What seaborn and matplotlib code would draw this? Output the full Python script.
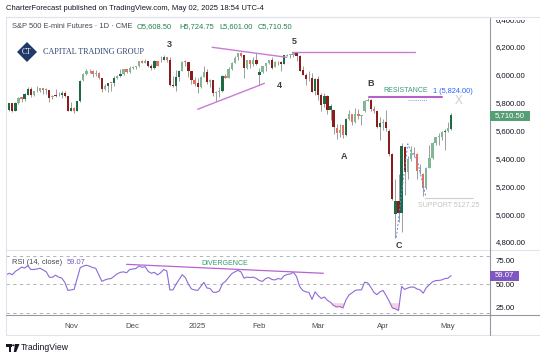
import numpy as np
import pandas as pd
import matplotlib
matplotlib.use("Agg")
import matplotlib.pyplot as plt
import seaborn as sns
from matplotlib.patches import Rectangle, Polygon, Circle
from matplotlib.lines import Line2D

# ---------------- data ----------------
opens = [5752, 5755, 5745, 5797, 5740, 5795, 5838, 5824, 5858, 5900, 5854, 5883, 5882, 5905, 5892, 5890, 5838, 5850, 5852, 5857,
         5868, 5845, 5741, 5760, 5743, 5813, 5960, 6004, 6027, 6025, 6009, 6011, 5975, 5895, 5918, 5943, 5941, 5975, 5993, 6007,
         6040, 6018, 6051, 6058, 6063, 6100, 6088, 6101, 6066, 6048, 6096, 6110, 6107, 6128, 6105, 5928, 5921, 5987, 6031, 6094,
         6091, 6025, 5963, 5938, 5912, 5985, 6018, 5950, 5961, 5868, 5879, 5886, 5993, 5980, 6040, 6088, 6125, 6156, 6140, 6049,
         6104, 6078, 6110, 6000, 6020, 6062, 6087, 6108, 6060, 6090, 6093, 6078, 6139, 6141, 6146, 6161, 6137, 6032, 6000, 5974,
         5975, 5881, 5972, 5857, 5788, 5849, 5746, 5745, 5622, 5581, 5640, 5568, 5685, 5719, 5661, 5721, 5707, 5740, 5812, 5820,
         5756, 5737, 5625, 5656, 5664, 5600, 5430, 5000, 5098, 5010, 5485, 5300, 5396, 5437, 5430, 5307, 5290, 5187, 5331, 5405,
         5512, 5555, 5556, 5590, 5598, 5608.5]
highs = [5765, 5763, 5798, 5800, 5802, 5841, 5841, 5867, 5911, 5910, 5882, 5918, 5906, 5906, 5903, 5893, 5857, 5902, 5878, 5883,
         5886, 5848, 5802, 5771, 5813, 5962, 6013, 6042, 6043, 6035, 6034, 6018, 5977, 5934, 5945, 5945, 5989, 5998, 6039, 6043,
         6041, 6063, 6065, 6065, 6101, 6104, 6111, 6103, 6078, 6104, 6097, 6133, 6140, 6130, 6125, 5990, 6037, 6033, 6096, 6104,
         6093, 6027, 5984, 5977, 5991, 6063, 6043, 5969, 5965, 5886, 5913, 6002, 6006, 6056, 6089, 6139, 6157, 6166, 6142, 6107,
         6110, 6125, 6159, 6048, 6067, 6088, 6109, 6126, 6098, 6101, 6096, 6141, 6152, 6150, 6166, 6163, 6140, 6062, 6011, 6028,
         6011, 5977, 5995, 5873, 5869, 5852, 5791, 5750, 5644, 5650, 5642, 5691, 5749, 5722, 5760, 5756, 5713, 5820, 5832, 5829,
         5778, 5740, 5696, 5682, 5745, 5612, 5442, 5250, 5286, 5510, 5490, 5414, 5492, 5482, 5440, 5361, 5295, 5337, 5497, 5517,
         5557, 5582, 5599, 5609, 5660, 5724.75]
lows = [5728, 5720, 5740, 5730, 5737, 5790, 5808, 5815, 5852, 5844, 5849, 5878, 5880, 5864, 5866, 5802, 5825, 5839, 5847, 5833,
        5840, 5738, 5740, 5726, 5738, 5805, 5955, 5998, 6011, 5985, 5994, 5967, 5878, 5890, 5876, 5885, 5922, 5969, 5982, 6002,
        6011, 6015, 6044, 6045, 6060, 6083, 6085, 6060, 6037, 6045, 6063, 6091, 6104, 6095, 5922, 5915, 5887, 5958, 6030, 6063,
        5988, 5934, 5923, 5871, 5908, 5983, 5932, 5916, 5851, 5815, 5844, 5880, 5975, 5978, 6035, 6085, 6110, 6126, 5975, 6040,
        6050, 6066, 6068, 5930, 6016, 6030, 6076, 6045, 6058, 6068, 6028, 6076, 6132, 6118, 6129, 6102, 6027, 6000, 5927, 5959,
        5876, 5855, 5818, 5740, 5769, 5719, 5675, 5573, 5537, 5554, 5550, 5560, 5674, 5643, 5655, 5682, 5642, 5735, 5809, 5742,
        5727, 5617, 5534, 5606, 5600, 5420, 5100, 4832, 4942, 4870, 5140, 5250, 5380, 5419, 5252, 5287, 5127.25, 5180, 5330, 5399,
        5493, 5496, 5533, 5461, 5590, 5601]
closes = [5754, 5744, 5796, 5741, 5796, 5837, 5825, 5860, 5899, 5855, 5882, 5881, 5904, 5893, 5891, 5837, 5849, 5848, 5858, 5867,
          5848, 5740, 5759, 5742, 5812, 5959, 6003, 6026, 6026, 6009, 6010, 5974, 5896, 5919, 5942, 5942, 5974, 5994, 6006, 6039,
          6017, 6050, 6059, 6062, 6099, 6087, 6102, 6065, 6047, 6097, 6064, 6106, 6129, 6106, 5927, 5922, 5986, 6030, 6095, 6092,
          6026, 5962, 5937, 5911, 5984, 6017, 5951, 5960, 5869, 5878, 5885, 5992, 5979, 6039, 6087, 6124, 6157, 6139, 6050, 6105,
          6077, 6109, 6079, 6019, 6063, 6086, 6109, 6051, 6091, 6094, 6077, 6140, 6140, 6147, 6162, 6136, 6031, 6001, 5973, 5974,
          5880, 5973, 5858, 5787, 5850, 5747, 5778, 5623, 5580, 5607, 5567, 5684, 5720, 5660, 5720, 5708, 5713, 5813, 5821, 5757,
          5738, 5626, 5657, 5665, 5615, 5429, 5106, 5097, 5010, 5487, 5300, 5395, 5438, 5429, 5308, 5315, 5186, 5330, 5404, 5513,
          5553, 5557, 5589, 5597, 5615, 5710.5]
rsi = [60.5, 59.8, 61.5, 60, 63.5, 65.5, 68, 67, 69.5, 65.5, 65.5, 66, 66.8, 65, 63, 57.3, 57.3, 59.5, 57.5, 56.5,
       52, 43.5, 44, 44.5, 56, 67.5, 69, 70, 69, 67.5, 66.8, 60, 53, 54.5, 55.5, 56, 58.5, 61, 62.5, 63,
       62, 65.5, 66, 66.5, 69.2, 67.8, 68.5, 63.5, 61.5, 62.5, 59.8, 62, 65.5, 64, 44, 44, 50, 55, 60, 57,
       50, 45, 44, 43.4, 47.6, 52, 46, 45.5, 41.5, 41.5, 43, 50.5, 53, 57, 61, 63, 64.5, 63, 56.3, 57.5,
       57, 57.5, 56, 53.8, 53, 56, 57, 55, 54.5, 56, 55.2, 59, 60.3, 60.8, 62.6, 58, 47.6, 43.5, 42, 41.3,
       34, 42, 38, 35, 36.5, 33, 31, 27.5, 26, 26.5, 25, 33.6, 38.8, 41, 43.5, 44, 44, 52, 51.5, 47,
       41.5, 39, 42, 43.4, 38, 32, 25, 24, 22.4, 47.6, 44.5, 46, 47, 46.9, 45, 44, 40.6, 46.5, 49.5, 52.5,
       53.8, 54, 54.5, 56, 56.3, 59.07]

month_ticks = [22, 42, 63, 83, 102, 123, 144]
month_labels = ["Nov", "Dec", "2025", "Feb", "Mar", "Apr", "May"]
price_ticks = [6400, 6200, 6000, 5800, 5600, 5400, 5200, 5000, 4800]
rsi_ticks = [75, 50, 25]
rsi_bands = [80, 50, 20]
last_close = 5710.50
last_rsi = 59.07

# drawings (bar index, price)
tri_low_x, tri_low_y = [63.0, 84.6], [5753, 5939]
tri_up_x, tri_up_y = [67.7, 91.8], [6198, 6126]
top5_x, top5_y = [93.6, 133.3], [6162, 6162]
res_x, res_y = [118.4, 142.0], [5843, 5843]
res_dot_x, res_dot_y = [131.1, 137.1], [5817, 5817]
sup_x, sup_y = [136.6, 152.0], [5118, 5118]
wave_x = [127.3, 129.2, 131.0, 132.2, 134.0, 136.0, 136.8]
wave_y = [4832, 5190, 5505, 5440, 5390, 5210, 5127]
div_x, div_y = [40.0, 103.7], [70.9, 61.5]
wave_labels = [("3", 53.7, 6221), ("5", 94.3, 6243), ("4", 89.3, 5927),
               ("A", 110.4, 5417), ("B", 118.9, 5938), ("C", 128.0, 4775)]

# ---------------- style ----------------
sns.set_theme(style="white")
plt.rcParams['font.family'] = ['Liberation Sans', 'DejaVu Sans']

W, H = 540, 357
fig = plt.figure(figsize=(W / 100, H / 100), dpi=100)
fig.patch.set_facecolor("white")

def fx(x):
    return x / W

def fy(y):
    return 1 - y / H

def T(x, y, s, **kw):
    kw.setdefault("va", "center")
    kw.setdefault("ha", "left")
    fig.text(fx(x), fy(y), s, **kw)

ax = fig.add_axes([fx(6), fy(250), (490 - 6) / W, (250 - 17) / H])
axr = fig.add_axes([fx(6), fy(315), (490 - 6) / W, (315 - 250) / H])

XL = (0.97, 157.6)
for a in (ax, axr):
    a.set_xlim(*XL)
    a.set_facecolor("white")
    for s in a.spines.values():
        s.set_visible(False)
ax.set_ylim(4742.7, 6415.4)
axr.set_ylim(17.6, 86.0)

# ---------------- candles ----------------
df = pd.DataFrame({"i": np.arange(len(closes)), "o": opens, "h": highs, "l": lows, "c": closes, "rsi": rsi})
rng = df.h - df.l
avg = rng.rolling(10, min_periods=1).mean().shift(1).fillna(rng)
dark = rng > avg
up = df.c >= df.o
UP_DARK, UP_LIGHT, DN_DARK, DN_LIGHT = "#1d6a43", "#7fb993", "#8a1c1c", "#e6705f"
colors = np.where(up, np.where(dark, UP_DARK, UP_LIGHT), np.where(dark, DN_DARK, DN_LIGHT))
body_bot = np.minimum(df.o, df.c)
body_h = np.maximum((df.c - df.o).abs(), 4)

ax.vlines(df.i, df.l, df.h, color="#9c9c9c", lw=0.7, zorder=2)
ax.bar(df.i, body_h, bottom=body_bot, width=0.74, color=colors, lw=0, zorder=3)

# drawings on price pane
mag = "#c97ad6"
ax.plot(tri_low_x, tri_low_y, color=mag, lw=1.0, zorder=4)
ax.plot(tri_up_x, tri_up_y, color=mag, lw=1.0, zorder=4)
ax.plot(top5_x, top5_y, color=mag, lw=1.0, zorder=4)
ax.plot(res_x, res_y, color="#b462c8", lw=1.5, zorder=4)
ax.plot(res_dot_x, res_dot_y, color="#7fa2f0", lw=0.7, ls=(0, (1, 1)), zorder=4)
ax.plot(sup_x, sup_y, color="#cfcfcf", lw=0.8, zorder=4, clip_on=False)
ax.plot(wave_x, wave_y, color="#5b8def", lw=0.7, ls=(0, (2, 2)), zorder=4)

for s, xi, yp in wave_labels:
    ax.text(xi, yp, s, ha="center", va="center", fontsize=6.5, color="#3d3d3d", fontweight="bold", zorder=5)
ax.text(130.4, 5886, "RESISTANCE", ha="center", va="center", fontsize=5.0, color="#3a9a76", zorder=5)
ax.text(139.1, 5884, "1 (5,824.00)", ha="left", va="center", fontsize=5.3, color="#2962ff", zorder=5)
ax.text(147.6, 5815, "X", ha="center", va="center", fontsize=8.5, color="#cdcdcd", zorder=5)
ax.text(134.3, 5061, "SUPPORT 5127.25", ha="left", va="center", fontsize=5.0, color="#c2c2c2", zorder=5, clip_on=False)

# right price axis
ax.yaxis.tick_right()
ax.set_yticks(price_ticks)
ax.set_yticklabels([f"{v:,.2f}" for v in price_ticks])
ax.tick_params(axis="y", length=0, pad=4.2, labelsize=5.6, labelcolor="#131722")
ax.set_xticks([])

# ---------------- RSI ----------------
for b in rsi_bands:
    axr.axhline(b, color="#a4a7ae", lw=0.6, ls=(0, (4, 4)), zorder=1)
r = np.array(rsi)
axr.fill_between(df.i, r, 30, where=r < 30, interpolate=True, color="#f9c8d4", alpha=0.85, lw=0, zorder=2)
sns.lineplot(x=df.i, y=df.rsi, ax=axr, color="#8d6ad8", lw=0.8, zorder=3)
axr.plot(div_x, div_y, color="#b862d0", lw=0.9, zorder=4)
axr.text(71.8, 72.3, "DIVERGENCE", ha="center", va="center", fontsize=5.0, color="#2f9a6a", zorder=5)
axr.set_xlabel("")
axr.set_ylabel("")
axr.yaxis.tick_right()
axr.set_yticks(rsi_ticks)
axr.set_yticklabels([f"{v:.2f}" for v in rsi_ticks])
axr.tick_params(axis="y", length=0, pad=4.2, labelsize=5.6, labelcolor="#131722")
axr.set_xticks(month_ticks)
axr.set_xticklabels(month_labels)
axr.tick_params(axis="x", length=0, pad=5.5, labelsize=5.6, labelcolor="#4a4a4a")

# ---------------- frame / separators ----------------
fig.add_artist(Rectangle((fx(6), fy(335)), (539.5 - 6) / W, (335 - 17) / H, transform=fig.transFigure,
                         fill=False, edgecolor="#e0e3eb", lw=0.8))
fig.add_artist(Line2D([fx(490), fx(490)], [fy(17), fy(335)], color="#9598a1", lw=0.8, zorder=11))
fig.add_artist(Line2D([fx(6), fx(540)], [fy(250), fy(250)], color="#e0e3eb", lw=0.8))
fig.add_artist(Line2D([fx(6), fx(540)], [fy(315), fy(315)], color="#9598a1", lw=0.8))
# the top of the topmost price label is cut by the pane border, as in the reference
fig.add_artist(Rectangle((fx(491), fy(19.6)), (540 - 491) / W, 9 / H, transform=fig.transFigure,
                         facecolor="white", edgecolor="none", zorder=10))
fig.add_artist(Line2D([fx(6), fx(540)], [fy(17), fy(17)], color="#e0e3eb", lw=0.8, zorder=11))

# badges
fig.add_artist(Rectangle((fx(489.5), fy(121)), 40 / W, 10.5 / H, transform=fig.transFigure,
                         facecolor="#569f74", edgecolor="none", zorder=11))
T(509.5, 115.8, f"{last_close:,.2f}", ha="center", fontsize=5.6, color="white", zorder=12)
fig.add_artist(Rectangle((fx(489.5), fy(280.5)), 29 / W, 10 / H, transform=fig.transFigure,
                         facecolor="#7e57c2", edgecolor="none", zorder=11))
T(504, 275.6, f"{last_rsi:.2f}", ha="center", fontsize=5.6, color="white", zorder=12)

# ---------------- header texts ----------------
T(6, 9, "CharterForecast published on TradingView.com, May 02, 2025 18:54 UTC-4", fontsize=5.5, color="#131722")
T(12, 27, "S&P 500 E-mini Futures · 1D · CME", fontsize=5.4, color="#434651")
green = "#1f8050"
T(137, 27, "O5,608.50", fontsize=5.4, color=green)
T(179, 27, "H5,724.75", fontsize=5.4, color=green)
T(219, 27, "L5,601.00", fontsize=5.4, color=green)
T(258, 27, "C5,710.50", fontsize=5.4, color=green)

# logo
cx, cy, hs = 27, 52, 10
fig.add_artist(Polygon([(fx(cx), fy(cy - hs)), (fx(cx + hs), fy(cy)), (fx(cx), fy(cy + hs)), (fx(cx - hs), fy(cy))],
                       closed=True, transform=fig.transFigure, facecolor="#1f3a68", edgecolor="none"))
T(cx, cy, "CT", ha="center", fontsize=5.5, color="white", family=["Liberation Serif", "DejaVu Serif"])
T(43, 51.5, "CAPITAL TRADING GROUP", fontsize=5.9, color="#2c4270", family=["Liberation Serif", "DejaVu Serif"])

# RSI legend text
T(12, 262.5, "RSI (14, close)", fontsize=5.4, color="#434651")
T(66.5, 262.5, f"{last_rsi:.2f}", fontsize=5.4, color="#7e57c2")

# footer TradingView logo
fig.add_artist(Rectangle((fx(6), fy(346.5)), 5.5 / W, 2.5 / H, transform=fig.transFigure, facecolor="#131722", edgecolor="none"))
fig.add_artist(Rectangle((fx(8.5), fy(352)), 2.2 / W, 8 / H, transform=fig.transFigure, facecolor="#131722", edgecolor="none"))
fig.add_artist(Circle((fx(13.4), fy(345.3)), 1.3 / W, transform=fig.transFigure, facecolor="#131722", edgecolor="none"))
fig.add_artist(Polygon([(fx(15), fy(344)), (fx(19.5), fy(344)), (fx(16.2), fy(352)), (fx(13.8), fy(352))],
                       closed=True, transform=fig.transFigure, facecolor="#131722", edgecolor="none"))
T(21, 348, "TradingView", fontsize=6.2, color="#131722")

fig.savefig("out.png", dpi=100, facecolor="white")
